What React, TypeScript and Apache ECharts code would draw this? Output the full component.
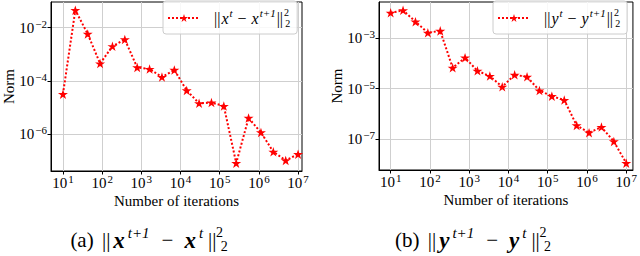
import React, { useEffect, useRef } from "react";
import * as echarts from "echarts";

// Number of iterations (logspace from 10 to 1e7, 20 points)
const iterations = [
  10, 20.69, 42.81, 88.59, 183.3, 379.3, 784.8, 1623.8, 3359.8, 6951.9,
  14384, 29764, 61585, 127427, 263665, 545559, 1128838, 2335721, 4832930, 10000000,
];
// ||x^t - x^{t+1}||_2^2
const normX = [
  3.2e-5, 4.5e-2, 5.8e-3, 4.5e-4, 2.0e-3, 3.6e-3, 3.2e-4, 2.8e-4, 1.4e-4, 2.6e-4,
  4.4e-5, 1.45e-5, 1.55e-5, 1.15e-5, 8.3e-8, 4.1e-6, 1.17e-6, 2.2e-7, 1.05e-7, 1.8e-7,
];
// ||y^t - y^{t+1}||_2^2
const normY = [
  9.8e-3, 1.23e-2, 4.4e-3, 1.6e-3, 1.9e-3, 6.6e-5, 1.66e-4, 5.0e-5, 3.1e-5, 1.17e-5,
  3.5e-5, 2.9e-5, 8.3e-6, 5.0e-6, 3.5e-6, 3.5e-7, 1.8e-7, 3.0e-7, 8.1e-8, 1.12e-8,
];
const xTicks = [10, 100, 1e3, 1e4, 1e5, 1e6, 1e7];
const yTicksA = [1e-6, 1e-4, 1e-2];
const yTicksB = [1e-7, 1e-5, 1e-3];

const FONT = "'Liberation Serif', 'DejaVu Serif', serif";
const STAR =
  "path://M50 0 L61.23 34.55 L97.55 34.55 L68.17 55.9 L79.39 90.45 L50 69.1 L20.61 90.45 L31.83 55.9 L2.45 34.55 L38.77 34.55 Z";
const RED = "#ff0000";

const powLabel = (v: number) => {
  const n = Math.round(Math.log10(v));
  const s = n < 0 ? "\u2212" + -n : String(n);
  return `{b|10}{e|${s}}`;
};
const tickRich = {
  b: { fontFamily: FONT, fontSize: 15, color: "#000" },
  e: { fontFamily: FONT, fontSize: 11, color: "#000", padding: [0, 0, 8, 1] },
};

const legendRich = {
  g: { width: 9 },
  n: { fontFamily: FONT, fontSize: 16, color: "#000" },
  m: { fontFamily: FONT, fontSize: 16, color: "#000", padding: [0, 4, 0, 4] },
  i: { fontFamily: FONT, fontSize: 16, fontStyle: "italic", color: "#000", padding: [0, 0, 0, 1] },
  sp: { fontFamily: FONT, fontSize: 11, fontStyle: "italic", color: "#000", padding: [0, 1, 11, 1] },
  s2: { fontFamily: FONT, fontSize: 10, color: "#000", padding: [0, 0, 12, 1], width: 0.1 },
  b2: { fontFamily: FONT, fontSize: 10, color: "#000", padding: [10, 0, 0, 1] },
};

const capRich = {
  n: { fontFamily: FONT, fontSize: 21, color: "#000" },
  bar: { fontFamily: FONT, fontSize: 21, color: "#000", padding: [0, 2, 0, 3] },
  m: { fontFamily: FONT, fontSize: 21, color: "#000", padding: [0, 10, 0, 10] },
  bx: { fontFamily: FONT, fontSize: 23, fontStyle: "italic", fontWeight: "bold", color: "#000", padding: [0, 1, 0, 1] },
  sp: { fontFamily: FONT, fontSize: 15, fontStyle: "italic", color: "#000", padding: [0, 2, 14, 2] },
  s2: { fontFamily: FONT, fontSize: 14, color: "#000", padding: [0, 0, 16, 1], width: 0.1 },
  b2: { fontFamily: FONT, fontSize: 14, color: "#000", padding: [13, 0, 0, 1] },
};

function makeXAxis(gridIndex: number, min: number, max: number) {
  return {
    type: "log",
    logBase: 10,
    gridIndex,
    min,
    max,
    name: "Number of iterations",
    nameLocation: "middle",
    nameGap: 22,
    nameMoveOverlap: false,
    nameTextStyle: { fontFamily: FONT, fontSize: 15, color: "#000" },
    axisLine: { show: true, lineStyle: { color: "#000", width: 1 } },
    axisTick: { show: true, length: 3.5, lineStyle: { color: "#000" }, customValues: xTicks },
    axisLabel: { margin: 2, customValues: xTicks, formatter: powLabel, rich: tickRich },
    splitLine: { show: true, lineStyle: { color: "#cfcfcf", width: 1 } },
    minorTick: { show: false },
  };
}
function makeYAxis(gridIndex: number, min: number, max: number, ticks: number[]) {
  return {
    type: "log",
    logBase: 10,
    gridIndex,
    min,
    max,
    name: "Norm",
    nameLocation: "middle",
    nameGap: 35,
    nameMoveOverlap: false,
    nameTextStyle: { fontFamily: FONT, fontSize: 15, color: "#000" },
    axisLine: { show: true, lineStyle: { color: "#000", width: 1 } },
    axisTick: { show: true, length: 3.5, lineStyle: { color: "#000" }, customValues: ticks },
    axisLabel: { margin: 4, customValues: ticks, formatter: powLabel, rich: tickRich },
    splitLine: { show: true, lineStyle: { color: "#cfcfcf", width: 1 } },
  };
}

function makeSeries(name: string, values: number[], idx: number) {
  return {
    type: "line",
    name,
    xAxisIndex: idx,
    yAxisIndex: idx,
    data: iterations.map((t, i) => [t, values[i]]),
    symbol: STAR,
    symbolSize: 10,
    symbolKeepAspect: true,
    itemStyle: { color: RED },
    lineStyle: { color: RED, width: 2, type: "dotted" },
    z: 3,
  };
}

function makeLegend(name: string, v: string, left: number) {
  return {
    data: [name],
    left,
    top: 1,
    padding: [6, 7, 6, 4],
    itemWidth: 32,
    itemHeight: 10,
    backgroundColor: "rgba(255,255,255,0.85)",
    borderColor: "#cccccc",
    borderWidth: 1,
    borderRadius: 3,
    z: 10,
    formatter: () =>
      `{g| }{n|||}{i|${v}}{sp|t}{m|\u2212}{i|${v}}{sp|t+1}{n|||}{s2|2}{b2|2}`,
    textStyle: { fontFamily: FONT, fontSize: 16, color: "#000", rich: legendRich },
  };
}

export default function App() {
  const ref = useRef<HTMLDivElement>(null);
  useEffect(() => {
    if (!ref.current) return;
    const chart = echarts.init(ref.current, null, { renderer: "svg" });
    chart.setOption({
      animation: false,
      backgroundColor: "#fff",
      grid: [
        { left: 50, top: 2, width: 252, height: 169, show: true, borderColor: "#000", borderWidth: 1 },
        { left: 379, top: 2, width: 254, height: 168, show: true, borderColor: "#000", borderWidth: 1 },
      ],
      xAxis: [makeXAxis(0, 4.955, 12589254), makeXAxis(1, 5.047, 14791084)],
      yAxis: [makeYAxis(0, 4.207e-8, 0.0912, yTicksA), makeYAxis(1, 6.03e-9, 0.0263, yTicksB)],
      legend: [makeLegend("x-norm", "x", 163), makeLegend("y-norm", "y", 493)],
      series: [makeSeries("x-norm", normX, 0), makeSeries("y-norm", normY, 1)],
      graphic: [
        {
          type: "text",
          x: 149,
          y: 240,
          style: {
            text: "{n|(a) }{bar|||}{bx|x}{sp|t+1}{m|\u2212}{bx|x}{sp|t}{bar|||}{s2|2}{b2|2}",
            align: "center",
            verticalAlign: "middle",
            rich: capRich,
          },
        },
        {
          type: "text",
          x: 473,
          y: 240,
          style: {
            text: "{n|(b) }{bar|||}{bx|y}{sp|t+1}{m|\u2212}{bx|y}{sp|t}{bar|||}{s2|2}{b2|2}",
            align: "center",
            verticalAlign: "middle",
            rich: capRich,
          },
        },
      ],
    });
    return () => chart.dispose();
  }, []);
  return (
    <div
      ref={ref}
      style={{ position: "fixed", left: 0, top: 0, width: 640, height: 256, background: "#fff" }}
    />
  );
}
